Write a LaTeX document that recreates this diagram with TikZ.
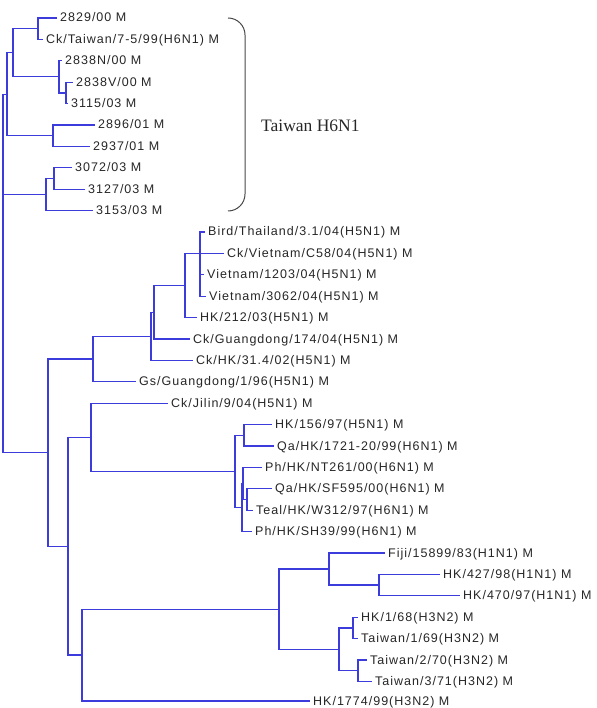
\documentclass[tikz,border=0pt]{standalone}
\usepackage{fontspec}
\setmainfont{Liberation Serif}
\newfontfamily\lblfont[LetterSpace=8]{Liberation Sans}
\usepackage{xcolor}
\usepackage{tikz}
\definecolor{treeblue}{HTML}{3C3CDC}
\definecolor{taxink}{HTML}{262626}
\tikzset{
  branch/.style   ={draw=treeblue,line width=1.25pt},
  taxon/.style    ={anchor=base west,xshift=3pt,yshift=-4pt,inner sep=0pt,
                    text=taxink,font=\lblfont\fontsize{12.5}{14}\selectfont},
  bracket/.style  ={draw=taxink!85,line width=1pt,rounded corners=17pt},
  cladename/.style={anchor=base west,inner sep=0pt,text=taxink,
                    font=\rmfamily\fontsize{17.5}{20}\selectfont}
}
\begin{document}
\begin{tikzpicture}[x=1pt,y=-1pt]
    \useasboundingbox (0,0) rectangle (596,708);
    % tips
    \coordinate (t0) at (57,18);      \coordinate (t1) at (43,39.4);
    \coordinate (t2) at (62,60.8);    \coordinate (t3) at (73,82.2);
    \coordinate (t4) at (68,103.6);   \coordinate (t5) at (95,125);
    \coordinate (t6) at (90,146.4);   \coordinate (t7) at (72,167.8);
    \coordinate (t8) at (85,189.2);   \coordinate (t9) at (93,210.6);
    \coordinate (t10) at (205,232);   \coordinate (t11) at (224,253.4);
    \coordinate (t12) at (204,274.8); \coordinate (t13) at (206,296.2);
    \coordinate (t14) at (197,317.6); \coordinate (t15) at (190,339);
    \coordinate (t16) at (193,360.4); \coordinate (t17) at (136,381.8);
    \coordinate (t18) at (168,403.2); \coordinate (t19) at (272,424.6);
    \coordinate (t20) at (274,446);   \coordinate (t21) at (262,467.4);
    \coordinate (t22) at (272,488.8); \coordinate (t23) at (253,510.2);
    \coordinate (t24) at (252,531.6); \coordinate (t25) at (385,553);
    \coordinate (t26) at (440,574.4); \coordinate (t27) at (460,595.8);
    \coordinate (t28) at (358,617.2); \coordinate (t29) at (358,638.6);
    \coordinate (t30) at (367,660);   \coordinate (t31) at (372,681.4);
    \coordinate (t32) at (310,701);
    % inner nodes
    \coordinate (a) at (38,28.7);    \coordinate (c) at (66,92.9);
    \coordinate (b) at (59,76.85);   \coordinate (d) at (13,52.8);
    \coordinate (f) at (53,135.7);   \coordinate (e) at (7,94.25);
    \coordinate (g) at (54,178.5);   \coordinate (h) at (46,194.55);
    \coordinate (i) at (3,144.4);    \coordinate (root) at (3,298.6);
    \coordinate (o) at (200,253.4);  \coordinate (n) at (185,285.5);
    \coordinate (m) at (154,312.25); \coordinate (l) at (151,336.3);
    \coordinate (k) at (93,359.05);  \coordinate (j) at (48,452.4);
    \coordinate (bb) at (244,435.3); \coordinate (dd) at (247,499.5);
    \coordinate (cc1) at (243,483.45); \coordinate (cc) at (242,507.5);
    \coordinate (aa) at (235,471.4); \coordinate (z) at (91,437.3);
    \coordinate (w) at (379,585.1);  \coordinate (u) at (329,569.05);
    \coordinate (x) at (353,627.9);  \coordinate (y) at (358,670.7);
    \coordinate (v) at (339,649.3);  \coordinate (t) at (279,609.2);
    \coordinate (s) at (82,655.1);   \coordinate (r) at (68,546.2);
    % branches
    \draw[branch] (root) |- (i); \draw[branch] (root) |- (j);
    \draw[branch] (i) |- (e); \draw[branch] (i) |- (h);
    \draw[branch] (e) |- (d); \draw[branch] (e) |- (f);
    \draw[branch] (d) |- (a); \draw[branch] (d) |- (b);
    \draw[branch] (a) |- (t0); \draw[branch] (a) |- (t1);
    \draw[branch] (b) |- (t2); \draw[branch] (b) |- (c);
    \draw[branch] (c) |- (t3); \draw[branch] (c) |- (t4);
    \draw[branch] (f) |- (t5); \draw[branch] (f) |- (t6);
    \draw[branch] (h) |- (g); \draw[branch] (h) |- (t9);
    \draw[branch] (g) |- (t7); \draw[branch] (g) |- (t8);
    \draw[branch] (j) |- (k); \draw[branch] (j) |- (r);
    \draw[branch] (k) |- (l); \draw[branch] (k) |- (t17);
    \draw[branch] (l) |- (m); \draw[branch] (l) |- (t16);
    \draw[branch] (m) |- (n); \draw[branch] (m) |- (t15);
    \draw[branch] (n) |- (o); \draw[branch] (n) |- (t14);
    \draw[branch] (o) |- (t10); \draw[branch] (o) |- (t11);
    \draw[branch] (o) |- (t12); \draw[branch] (o) |- (t13);
    \draw[branch] (r) |- (z); \draw[branch] (r) |- (s);
    \draw[branch] (z) |- (t18); \draw[branch] (z) |- (aa);
    \draw[branch] (aa) |- (bb); \draw[branch] (aa) |- (cc);
    \draw[branch] (bb) |- (t19); \draw[branch] (bb) |- (t20);
    \draw[branch] (cc) |- (cc1); \draw[branch] (cc) |- (t24);
    \draw[branch] (cc1) |- (t21); \draw[branch] (cc1) |- (dd);
    \draw[branch] (dd) |- (t22); \draw[branch] (dd) |- (t23);
    \draw[branch] (s) |- (t); \draw[branch] (s) |- (t32);
    \draw[branch] (t) |- (u); \draw[branch] (t) |- (v);
    \draw[branch] (u) |- (t25); \draw[branch] (u) |- (w);
    \draw[branch] (w) |- (t26); \draw[branch] (w) |- (t27);
    \draw[branch] (v) |- (x); \draw[branch] (v) |- (y);
    \draw[branch] (x) |- (t28); \draw[branch] (x) |- (t29);
    \draw[branch] (y) |- (t30); \draw[branch] (y) |- (t31);
    % taxa
    \node[taxon] (n0) at (t0) {2829/00 M};
    \node[taxon] (n1) at (t1) {Ck/Taiwan/7-5/99(H6N1) M};
    \node[taxon] (n2) at (t2) {2838N/00 M};
    \node[taxon] (n3) at (t3) {2838V/00 M};
    \node[taxon] (n4) at (t4) {3115/03 M};
    \node[taxon] (n5) at (t5) {2896/01 M};
    \node[taxon] (n6) at (t6) {2937/01 M};
    \node[taxon] (n7) at (t7) {3072/03 M};
    \node[taxon] (n8) at (t8) {3127/03 M};
    \node[taxon] (n9) at (t9) {3153/03 M};
    \node[taxon] (n10) at (t10) {Bird/Thailand/3.1/04(H5N1) M};
    \node[taxon] (n11) at (t11) {Ck/Vietnam/C58/04(H5N1) M};
    \node[taxon] (n12) at (t12) {Vietnam/1203/04(H5N1) M};
    \node[taxon] (n13) at (t13) {Vietnam/3062/04(H5N1) M};
    \node[taxon] (n14) at (t14) {HK/212/03(H5N1) M};
    \node[taxon] (n15) at (t15) {Ck/Guangdong/174/04(H5N1) M};
    \node[taxon] (n16) at (t16) {Ck/HK/31.4/02(H5N1) M};
    \node[taxon] (n17) at (t17) {Gs/Guangdong/1/96(H5N1) M};
    \node[taxon] (n18) at (t18) {Ck/Jilin/9/04(H5N1) M};
    \node[taxon] (n19) at (t19) {HK/156/97(H5N1) M};
    \node[taxon] (n20) at (t20) {Qa/HK/1721-20/99(H6N1) M};
    \node[taxon] (n21) at (t21) {Ph/HK/NT261/00(H6N1) M};
    \node[taxon] (n22) at (t22) {Qa/HK/SF595/00(H6N1) M};
    \node[taxon] (n23) at (t23) {Teal/HK/W312/97(H6N1) M};
    \node[taxon] (n24) at (t24) {Ph/HK/SH39/99(H6N1) M};
    \node[taxon] (n25) at (t25) {Fiji/15899/83(H1N1) M};
    \node[taxon] (n26) at (t26) {HK/427/98(H1N1) M};
    \node[taxon] (n27) at (t27) {HK/470/97(H1N1) M};
    \node[taxon] (n28) at (t28) {HK/1/68(H3N2) M};
    \node[taxon] (n29) at (t29) {Taiwan/1/69(H3N2) M};
    \node[taxon] (n30) at (t30) {Taiwan/2/70(H3N2) M};
    \node[taxon] (n31) at (t31) {Taiwan/3/71(H3N2) M};
    \node[taxon] (n32) at (t32) {HK/1774/99(H3N2) M};
    % Taiwan clade
    \coordinate (br1) at (228,18);  \coordinate (br2) at (245,18);
    \coordinate (br3) at (245,211); \coordinate (br4) at (228,211);
    \draw[bracket] (br1) -- (br2) -- (br3) -- (br4);
    \node[cladename] (tw) at (261,132) {Taiwan H6N1};
  \end{tikzpicture}
\end{document}
